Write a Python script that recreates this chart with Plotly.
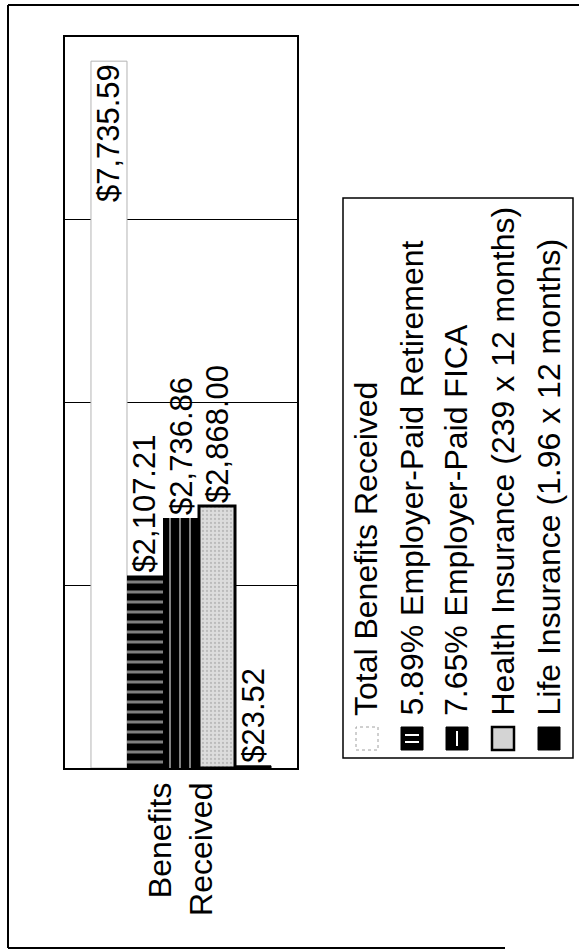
import plotly.graph_objects as go

# ---- data -------------------------------------------------------------
categories = ["Benefits<br>Received"]
series_names = [
    "Total Benefits Received",
    "5.89% Employer-Paid Retirement",
    "7.65% Employer-Paid FICA",
    "Health Insurance (239 x 12 months)",
    "Life Insurance (1.96 x 12 months)",
]
series_values = [7735.59, 2107.21, 2736.86, 2868.00, 23.52]
value_ticks = [0, 2000, 4000, 6000, 8000]

# ---- page geometry (pixels) -------------------------------------------
W, H = 579, 952
PL, PR, PT, PB = 65, 297, 37, 768  # plot area edges
FONT = "Liberation Sans, Arial, sans-serif"


def px_x(p):
    return (p - PL) / (PR - PL)


def px_y(p):
    return (PB - p) / (PB - PT)


# ---- bar styles --------------------------------------------------------
bar_styles = [
    dict(color="white", line=dict(color="#b4b4b4", width=1)),
    dict(color="black", line=dict(width=0),
         pattern=dict(shape="-", bgcolor="black", fgcolor="white",
                      size=10, solidity=0.3)),
    dict(color="black", line=dict(width=0),
         pattern=dict(shape="|", bgcolor="black", fgcolor="white",
                      size=10, solidity=0.2)),
    dict(color="#d4d4d4", line=dict(color="black", width=3),
         pattern=dict(shape=".", bgcolor="#dcdcdc", fgcolor="#9a9a9a",
                      size=4, solidity=0.25)),
    dict(color="black", line=dict(color="black", width=1)),
]
text_positions = ["inside", "outside", "outside", "outside", "outside"]

fig = go.Figure()
for name, val, style, tpos in zip(series_names, series_values, bar_styles, text_positions):
    fig.add_trace(go.Bar(
        x=categories,
        y=[val],
        name=name,
        marker=style,
        text=[f"${val:,.2f}"],
        textposition=tpos,
        insidetextanchor="end",
        textangle=-90,
        textfont=dict(family=FONT, size=31, color="black"),
        constraintext="none",
        cliponaxis=False,
        showlegend=False,
    ))

# ---- legend drawn as rotated text -------------------------------------
legend_cols = [367, 412, 457, 503, 549]
shapes = []
annotations = []

# outer frame
shapes.append(dict(type="line", xref="paper", yref="paper",
                   x0=px_x(8), x1=px_x(579), y0=px_y(5), y1=px_y(5),
                   line=dict(color="black", width=2)))
shapes.append(dict(type="line", xref="paper", yref="paper",
                   x0=px_x(8), x1=px_x(8), y0=px_y(5), y1=px_y(948),
                   line=dict(color="black", width=2)))
shapes.append(dict(type="line", xref="paper", yref="paper",
                   x0=px_x(8), x1=px_x(505), y0=px_y(948), y1=px_y(948),
                   line=dict(color="black", width=2)))

# legend box
shapes.append(dict(type="rect", xref="paper", yref="paper",
                   x0=px_x(343), x1=px_x(573), y0=px_y(758), y1=px_y(198),
                   line=dict(color="black", width=1.5), fillcolor="white",
                   layer="below"))

sw_top, sw_bot = 727, 750
for i, (name, cx) in enumerate(zip(series_names, legend_cols)):
    x0, x1 = px_x(cx - 11), px_x(cx + 11)
    y0, y1 = px_y(sw_bot), px_y(sw_top)
    if i == 0:
        shapes.append(dict(type="rect", xref="paper", yref="paper",
                           x0=x0, x1=x1, y0=y0, y1=y1, fillcolor="white",
                           line=dict(color="#a0a0a0", width=1, dash="dot")))
    elif i == 1:
        shapes.append(dict(type="rect", xref="paper", yref="paper",
                           x0=x0, x1=x1, y0=y0, y1=y1, fillcolor="black",
                           line=dict(color="black", width=1)))
        for yy in (735, 742):
            shapes.append(dict(type="line", xref="paper", yref="paper",
                               x0=px_x(cx - 7), x1=px_x(cx + 7),
                               y0=px_y(yy), y1=px_y(yy),
                               line=dict(color="white", width=2)))
    elif i == 2:
        shapes.append(dict(type="rect", xref="paper", yref="paper",
                           x0=x0, x1=x1, y0=y0, y1=y1, fillcolor="black",
                           line=dict(color="black", width=1)))
        shapes.append(dict(type="line", xref="paper", yref="paper",
                           x0=px_x(cx), x1=px_x(cx),
                           y0=px_y(746), y1=px_y(731),
                           line=dict(color="white", width=2)))
    elif i == 3:
        shapes.append(dict(type="rect", xref="paper", yref="paper",
                           x0=x0, x1=x1, y0=y0, y1=y1, fillcolor="#d4d4d4",
                           line=dict(color="black", width=2.5)))
    else:
        shapes.append(dict(type="rect", xref="paper", yref="paper",
                           x0=x0, x1=x1, y0=y0, y1=y1, fillcolor="black",
                           line=dict(color="black", width=1)))
    annotations.append(dict(
        text=name, xref="paper", yref="paper",
        x=px_x(cx - 1), y=px_y(718), xanchor="center", yanchor="bottom",
        textangle=-90, showarrow=False,
        font=dict(family=FONT, size=32, color="black"),
    ))

fig.update_layout(
    width=W, height=H,
    margin=dict(l=PL, r=W - PR, t=PT, b=H - PB, pad=0),
    paper_bgcolor="white", plot_bgcolor="white",
    barmode="group", bargap=0.224, bargroupgap=0,
    shapes=shapes, annotations=annotations,
    font=dict(family=FONT, color="black"),
    xaxis=dict(
        type="category", range=[-0.5, 0.5],
        tickangle=-90, tickfont=dict(family=FONT, size=32, color="black"),
        showline=True, mirror=True, linecolor="black", linewidth=1.5,
        ticks="", showgrid=False,
    ),
    yaxis=dict(
        range=[0, 8000], tickvals=value_ticks, showticklabels=False,
        showgrid=True, gridcolor="black", gridwidth=1,
        showline=True, mirror=True, linecolor="black", linewidth=1.5,
        zeroline=False, ticks="",
    ),
)

fig.write_html("out.html")
